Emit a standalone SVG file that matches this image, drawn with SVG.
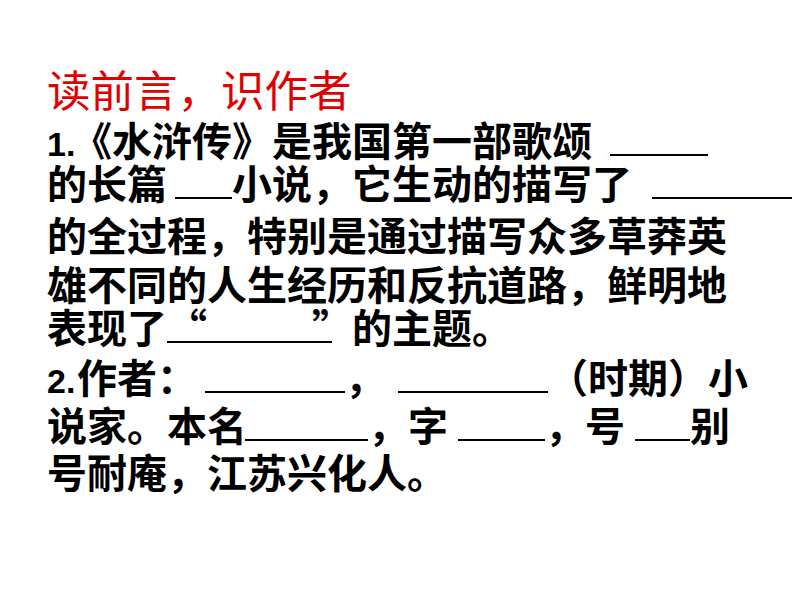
<svg xmlns="http://www.w3.org/2000/svg" width="794" height="596" viewBox="0 0 794 596">
<style>
text{font-family:"Noto Sans CJK SC","Noto Sans",sans-serif;font-size:40px;font-weight:bold;fill:#000}
.t{fill:#e00000;font-size:43.5px;font-weight:normal}
.b{font-family:"Liberation Sans",sans-serif;font-weight:bold;font-size:34px}
line{stroke:#000;stroke-width:2}
</style>
<rect width="794" height="596" fill="#fff"/>
<text class="t" x="47" y="107">读前言，识作者</text>
<text class="b" x="47" y="156">1.</text>
<text x="72" y="156">《水浒传》是我国第一部歌颂</text>
<line x1="610" y1="155" x2="708" y2="155"/>
<text x="47" y="199">的长篇</text>
<line x1="175" y1="198" x2="232" y2="198"/>
<text x="232" y="199">小说，它生动的描写了</text>
<line x1="652" y1="198" x2="792" y2="198"/>
<text x="47" y="251">的全过程，特别是通过描写众多草莽英</text>
<text x="47" y="300">雄不同的人生经历和反抗道路，鲜明地</text>
<text x="47" y="343">表现了“</text>
<line x1="167" y1="342" x2="332" y2="342"/>
<text x="312" y="343">”的主题。</text>
<text class="b" x="47" y="393">2.</text>
<text x="77" y="393">作者：</text>
<line x1="205" y1="392" x2="345" y2="392"/>
<text x="345" y="393">，</text>
<line x1="398" y1="392" x2="548" y2="392"/>
<text x="548" y="393">（时期）小</text>
<text x="47" y="441">说家。本名</text>
<line x1="245" y1="440" x2="368" y2="440"/>
<text x="368" y="441">，字</text>
<line x1="458" y1="440" x2="545" y2="440"/>
<text x="545" y="441">，号</text>
<line x1="635" y1="440" x2="690" y2="440"/>
<text x="690" y="441">别</text>
<text x="47" y="488">号耐庵，江苏兴化人。</text>
</svg>
